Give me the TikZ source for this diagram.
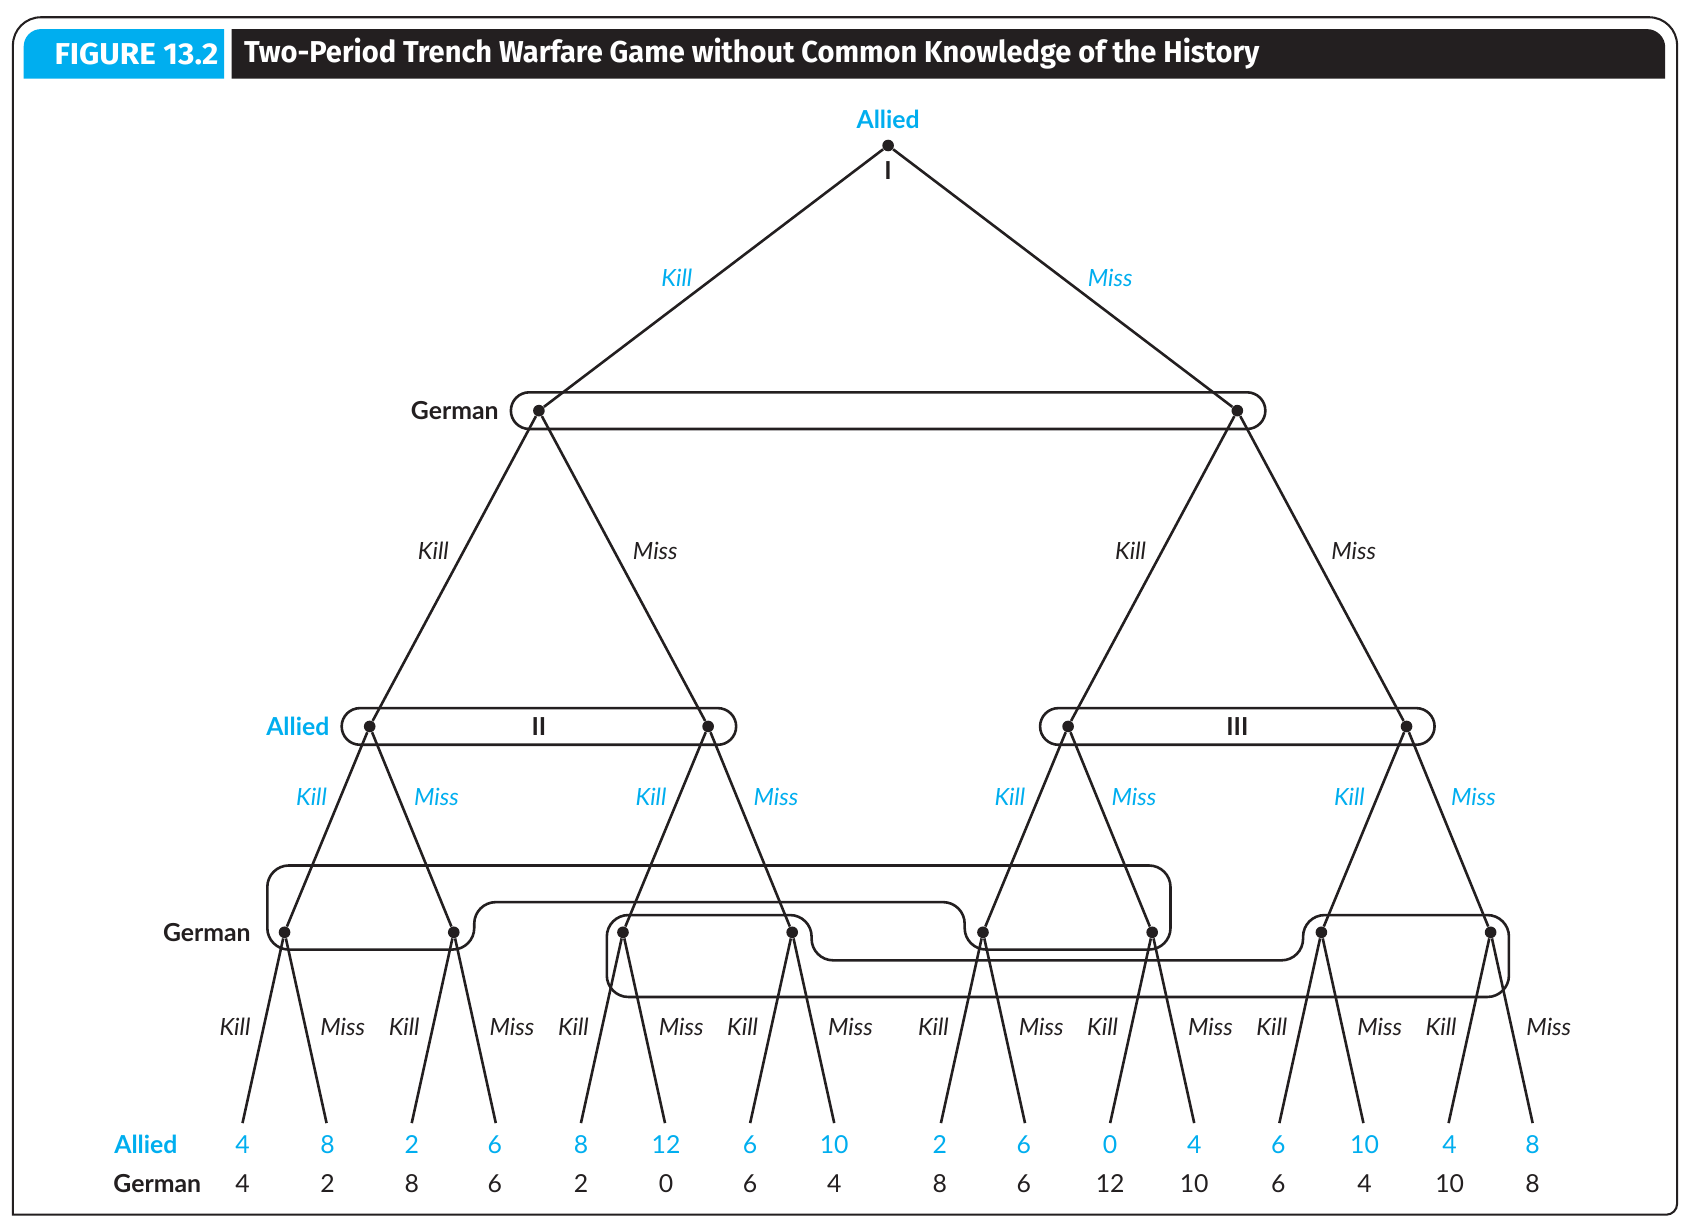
\documentclass[tikz,border=0pt]{standalone}
\usepackage{fontspec}
\setmainfont{Lato}
\newfontfamily\titlefont{Fira Sans}
\usepackage{graphicx}
\definecolor{figblue}{RGB}{0,174,239}
\definecolor{figdark}{RGB}{35,31,32}
\newcommand\infostadium[4]{% x1,x2,y1,y2
\draw[infoset] ({#1+17},#3) -- ({#2-17},#3) .. controls ({#2-7.6},#3) and (#2,{(#3+#4)/2-9.4}) .. (#2,{(#3+#4)/2}) .. controls (#2,{(#3+#4)/2+9.4}) and ({#2-7.6},#4) .. ({#2-17},#4) -- ({#1+17},#4) .. controls ({#1+7.6},#4) and (#1,{(#3+#4)/2+9.4}) .. (#1,{(#3+#4)/2}) .. controls (#1,{(#3+#4)/2-9.4}) and ({#1+7.6},#3) .. ({#1+17},#3) -- cycle;}
\begin{document}
\begin{tikzpicture}[x=0.5pt,y=-0.5pt,
  frame/.style={line width=0.95pt, draw=figdark},
  edge/.style={line width=1.2pt, draw=figdark},
  infoset/.style={line width=1.2pt, draw=figdark, line join=round},
  dot/.style={circle, fill=figdark, inner sep=0pt, minimum size=5.4pt},
  player/.style={font=\fontsize{11.5}{13}\selectfont\bfseries, inner sep=0pt},
  bplayer/.style={player, text=figblue},
  kplayer/.style={player, text=figdark},
  move/.style={font=\fontsize{11}{13}\selectfont\itshape, inner sep=0pt},
  bmove/.style={move, text=figblue},
  kmove/.style={move, text=figdark},
  pay/.style={font=\fontsize{11.5}{13}\selectfont, inner sep=0pt},
  bpay/.style={pay, text=figblue},
  kpay/.style={pay, text=figdark}
]
\useasboundingbox (0,0) rectangle (1568,1139);
\fill[white] (0,0) rectangle (1568,1139);

% frame
\draw[frame] (12,1127) -- (12,42) .. controls (12,27.6) and (23.6,16) .. (38,16) -- (1530,16) .. controls (1544.4,16) and (1556,27.6) .. (1556,42) -- (1556,1117) .. controls (1556,1122.5) and (1551.5,1127) .. (1546,1127) -- cycle;

% title bars
\fill[figblue] (22,73) -- (22,43) .. controls (22,34.2) and (29.2,27) .. (38,27) -- (208,27) -- (208,73) -- cycle;
\fill[figdark] (215,27) -- (1528,27) .. controls (1537.4,27) and (1545,34.6) .. (1545,44) -- (1545,73) -- (215,73) -- cycle;
\node[anchor=east, inner sep=0pt, text=white, font=\titlefont\bfseries\fontsize{14}{16}\selectfont] (fig) at (203,50) {\resizebox{76pt}{\height}{FIGURE 13.2}};
\node[anchor=west, inner sep=0pt, text=white, font=\titlefont\bfseries\fontsize{14}{16}\selectfont] (ttl) at (226,50) {\resizebox{471pt}{\height}{Two-Period Trench Warfare Game without Common Knowledge of the History}};

% information sets
\infostadium{474}{1174}{364}{398}
\infostadium{317}{683}{657}{691}
\infostadium{965}{1331}{657}{691}
\draw[infoset, rounded corners=10] (248,803) -- (1086,803) -- (1086,881) -- (895,881) -- (895,837) -- (440,837) -- (440,881) -- (248,881) -- cycle;
\draw[infoset, rounded corners=10] (563,849) -- (753,849) -- (753,891) -- (1209,891) -- (1209,849) -- (1400,849) -- (1400,925) -- (563,925) -- cycle;

% decision nodes
\node[dot] (r) at (824,135) {};
\node[dot] (g1) at (500,381) {};
\node[dot] (g2) at (1148,381) {};
\node[dot] (a1) at (343,674) {};
\node[dot] (a2) at (657,674) {};
\node[dot] (a3) at (991,674) {};
\node[dot] (a4) at (1305,674) {};
\foreach \i/\x in {1/264,2/421,3/578,4/735,5/912,6/1069,7/1226,8/1383}{
  \node[dot] (h\i) at (\x,865) {};
  \coordinate (lk\i) at (\x-39,1042);
  \coordinate (lm\i) at (\x+39,1042);
}

% edges
\draw[edge] (r) -- (g1);
\draw[edge] (r) -- (g2);
\draw[edge] (g1) -- (a1);
\draw[edge] (g1) -- (a2);
\draw[edge] (g2) -- (a3);
\draw[edge] (g2) -- (a4);
\draw[edge] (a1) -- (h1);
\draw[edge] (a1) -- (h2);
\draw[edge] (a2) -- (h3);
\draw[edge] (a2) -- (h4);
\draw[edge] (a3) -- (h5);
\draw[edge] (a3) -- (h6);
\draw[edge] (a4) -- (h7);
\draw[edge] (a4) -- (h8);
\foreach \i in {1,...,8}{
  \draw[edge] (h\i) -- (lk\i);
  \draw[edge] (h\i) -- (lm\i);
}

% player and set labels
\node[bplayer] (pAllied0) at (824,111) {Allied};
\node[kplayer] (setI) at (824,158) {I};
\node[kplayer, anchor=east] (pGerman1) at (463,381) {German};
\node[bplayer, anchor=east] (pAllied2) at (306,674) {Allied};
\node[kplayer] (setII) at (500,674) {II};
\node[kplayer] (setIII) at (1148,674) {III};
\node[kplayer, anchor=east] (pGerman3) at (233,865) {German};

% move labels
\node[bmove] (m0k) at (628,258) {Kill};
\node[bmove] (m0m) at (1030,258) {Miss};
\node[kmove] (m1a) at (402,511) {Kill};
\node[kmove] (m1b) at (608,511) {Miss};
\node[kmove] (m1c) at (1049,511) {Kill};
\node[kmove] (m1d) at (1256,511) {Miss};
\foreach \x/\t [count=\n] in {289/Kill,405/Miss,604/Kill,720/Miss,937/Kill,1052/Miss,1252/Kill,1367/Miss}{
  \node[bmove] (m2\n) at (\x,739) {\t};
}
\foreach \i/\x in {1/264,2/421,3/578,4/735,5/912,6/1069,7/1226,8/1383}{
  \node[kmove] (mk\i) at (\x-46,953) {Kill};
  \node[kmove] (mm\i) at (\x+54,953) {Miss};
}

% payoffs
\node[bplayer, anchor=east] (payA) at (165,1062) {Allied};
\node[kplayer, anchor=east] (payG) at (187,1098) {German};
\foreach \x/\a/\g [count=\n] in {225/4/4,304/8/2,382/2/8,459/6/6,539/8/2,618/12/0,696/6/6,774/10/4,872/2/8,950/6/6,1030/0/12,1108/4/10,1186/6/6,1266/10/4,1345/4/10,1422/8/8}{
  \node[bpay] (pa\n) at (\x,1062) {\a};
  \node[kpay] (pg\n) at (\x,1098) {\g};
}
\end{tikzpicture}
\end{document}
